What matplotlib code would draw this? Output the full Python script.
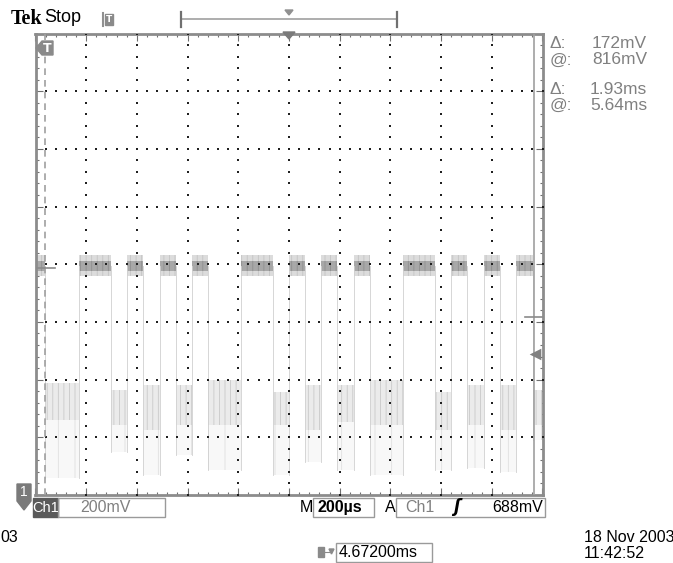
import numpy as np
import matplotlib.pyplot as plt
from matplotlib.patches import Polygon, Rectangle

W, H = 673, 563
UI = ['Liberation Sans Narrow', 'Liberation Sans', 'DejaVu Sans']
plt.rcParams['hatch.linewidth'] = 0.6

### scope settings
mv_per_div = 200
ms_per_div = 0.2
center_mv = 1000
delay_ms = 4.672
trig_level_mv = 688

### edge times of the serial signal (ms) and the level of each stretch
edges_ms = [3.709, 3.842, 3.970, 4.033, 4.096, 4.163, 4.226, 4.289, 4.352,
            4.481, 4.609, 4.672, 4.735, 4.798, 4.861, 4.928, 4.992, 5.122,
            5.248, 5.313, 5.376, 5.441, 5.504, 5.569, 5.635]
seg_levels = ['H', 'L', 'H', 'L', 'H', 'L', 'H', 'L', 'H', 'L', 'H', 'L', 'H',
              'L', 'H', 'L', 'H', 'L', 'H', 'L', 'H', 'L', 'H', 'L', 'H', 'L']

high_mid_mv = 995
high_core_mv = 17
high_outer_mv = 36
### noisy low bursts: dense band top / bottom and deepest spikes (mV)
low_top_mv = [589, 564, 582, 582, 599, 557, 582, 582, 599, 557, 582, 582, 564]
low_bot_mv = [460, 443, 426, 443, 443, 443, 426, 453, 443, 426, 443, 426, 443]
low_spike_mv = [259, 349, 270, 339, 287, 270, 315, 287, 270, 287, 294, 280, 391]

cursor_t_ms = [3.71, 5.64]
cursor_v_mv = [988, 816]

x0 = delay_ms - 5 * ms_per_div
x1 = delay_ms + 5 * ms_per_div
y0 = center_mv - 4 * mv_per_div
y1 = center_mv + 4 * mv_per_div

fig = plt.figure(figsize=(6.73, 5.63), dpi=100)
ax = fig.add_axes([35.5 / W, 1 - 495 / H, 507 / W, 461.5 / H])
ax.set_xlim(x0, x1)
ax.set_ylim(y0, y1)

### trace
bounds = [x0] + edges_ms + [x1]
for i, lev in enumerate(seg_levels):
    a, b = bounds[i], bounds[i + 1]
    if lev == 'H':
        ax.fill_between([a, b], high_mid_mv - high_outer_mv, high_mid_mv + high_outer_mv,
                        facecolor='#dcdcdc', edgecolor='#c4c4c4', hatch='|||', lw=0, zorder=2)
        ax.fill_between([a, b], high_mid_mv - high_core_mv, high_mid_mv + high_core_mv,
                        facecolor='#a8a8a8', edgecolor='#8e8e8e', hatch='|||', lw=0, zorder=2)
    else:
        k = (i - 1) // 2
        ax.fill_between([a, b], low_spike_mv[k], low_bot_mv[k],
                        facecolor='#f8f8f8', edgecolor='#e0e0e0', hatch='|', lw=0, zorder=2)
        ax.fill_between([a, b], low_bot_mv[k], low_top_mv[k],
                        facecolor='#ebebeb', edgecolor='#c9c9c9', hatch='|||', lw=0, zorder=2)
for j, e in enumerate(edges_ms):
    if seg_levels[j] == 'L':
        k = (j - 1) // 2
    else:
        k = j // 2
    ax.plot([e, e], [low_spike_mv[k], high_mid_mv], color='#d0d0d0', lw=0.6, zorder=2)

### graticule dots
gxs = [x0 + k * ms_per_div for k in range(1, 10)]
gys = [y0 + m * mv_per_div for m in range(1, 8)]
dot_y = np.arange(y0, y1 + 1, mv_per_div / 5)
dot_x = np.arange(x0, x1 + 1e-9, ms_per_div / 5)
for gx in gxs:
    ax.scatter(np.full(len(dot_y), gx), dot_y, s=1.0, marker='s', c='#202020', lw=0, zorder=3)
for gy in gys:
    ax.scatter(dot_x, np.full(len(dot_x), gy), s=1.0, marker='s', c='#202020', lw=0, zorder=3)

### cursors
ax.axvline(cursor_t_ms[0], color='#a0a0a0', lw=1.2, ls=(0, (4, 3)), zorder=4)
ax.axvline(cursor_t_ms[1], color='#a0a0a0', lw=1.2, zorder=4)
ax.plot([0, 0.038], [cursor_v_mv[0]] * 2, color='#8a8a8a', lw=1.2,
        transform=ax.get_yaxis_transform(), zorder=4)
ax.plot([0.965, 1.0], [cursor_v_mv[1]] * 2, color='#8a8a8a', lw=1.2,
        transform=ax.get_yaxis_transform(), zorder=4)
# trigger level arrow
ax.scatter([0.985], [trig_level_mv], marker='<', s=70, c='#808080', lw=0,
           transform=ax.get_yaxis_transform(), clip_on=False, zorder=5)

### frame and ticks
ax.set_xticks(gxs + [x0, x1])
ax.set_xticks(dot_x, minor=True)
ax.set_yticks(gys + [y0, y1])
ax.set_yticks(dot_y, minor=True)
ax.tick_params(which='both', direction='in', top=True, right=True,
               labelbottom=False, labelleft=False, color='#707070', width=0.8)
ax.tick_params(which='major', length=5)
ax.tick_params(which='minor', length=2.5)
for sp in ax.spines.values():
    sp.set_color('#8c8c8c')
    sp.set_linewidth(2)

### screen furniture in pixel coordinates
ov = fig.add_axes([0, 0, 1, 1])
ov.set_xlim(0, W)
ov.set_ylim(H, 0)
ov.axis('off')

ov.text(11, 19, 'Tek', family='Liberation Serif', weight='bold', fontsize=14.5, va='center')
ov.text(44, 17.5, 'Stop', family=UI, fontsize=13, va='center')
# small trigger icon
ov.plot([103, 103], [13, 26], color='#909090', lw=1.5)
ov.add_patch(Rectangle((105, 14), 8, 11, color='#8a8a8a'))
ov.text(109, 19.5, 'T', color='white', fontsize=6.5, ha='center', va='center', weight='bold')
# record bar
ov.plot([182, 397], [19, 19], color='#a0a0a0', lw=1.2)
ov.plot([181, 181], [12, 27], color='#707070', lw=1.6)
ov.plot([397, 397], [12, 27], color='#707070', lw=1.6)
ov.add_patch(Polygon([(285, 10), (293, 10), (289, 15)], color='#909090'))
# trigger position marker
ov.add_patch(Polygon([(283, 32), (295, 32), (289, 39)], color='#7a7a7a'))
# T marker inside screen
ov.add_patch(Polygon([(36, 48), (42, 41), (53, 41), (53, 55), (42, 55)], color='#8a8a8a'))
ov.text(47.5, 48, 'T', color='white', fontsize=9, ha='center', va='center', weight='bold')
# channel 1 ground marker
ov.add_patch(Polygon([(17, 484), (31, 484), (31, 501), (24, 510), (17, 501)], color='#7a7a7a'))
ov.text(24, 492, '1', color='white', fontsize=10, ha='center', va='center', family=UI)

# cursor readouts
grey = '#808080'
dv = cursor_v_mv[0] - cursor_v_mv[1]
dt = cursor_t_ms[1] - cursor_t_ms[0]
ov.text(550, 43, '\u0394:', color=grey, fontsize=12.5, va='center', family=UI)
ov.text(550, 60, '@:', color=grey, fontsize=12.5, va='center', family=UI)
ov.text(647, 43, f'{dv}mV', color=grey, fontsize=12.5, va='center', ha='right', family=UI)
ov.text(647, 60, f'{cursor_v_mv[1]}mV', color=grey, fontsize=12.5, va='center', ha='right', family=UI)
ov.text(550, 89, '\u0394:', color=grey, fontsize=12.5, va='center', family=UI)
ov.text(550, 105, '@:', color=grey, fontsize=12.5, va='center', family=UI)
ov.text(647, 89, f'{dt:.2f}ms', color=grey, fontsize=12.5, va='center', ha='right', family=UI)
ov.text(647, 105, f'{cursor_t_ms[1]:.2f}ms', color=grey, fontsize=12.5, va='center', ha='right', family=UI)

# bottom status line
ov.add_patch(Rectangle((33, 498), 25, 19, color='#5a5a5a'))
ov.text(45.5, 507.5, 'Ch1', color='white', fontsize=10.5, ha='center', va='center', family=UI)
ov.add_patch(Rectangle((58, 498), 107, 19, fill=False, ec='#9a9a9a', lw=1))
ov.text(80, 507.5, f'{mv_per_div}mV', color='#808080', fontsize=11.5, va='center', family=UI)
ov.text(300, 507.5, 'M', fontsize=11.5, va='center', family=UI)
ov.add_patch(Rectangle((313, 498), 61, 19, fill=False, ec='#9a9a9a', lw=1))
ov.text(318, 507.5, f'{int(ms_per_div * 1000)}\u00b5s', fontsize=11.5, va='center',
        weight='bold', family=UI)
ov.text(385, 507.5, 'A', fontsize=11.5, va='center', family=UI)
ov.add_patch(Rectangle((396, 498), 149, 19, fill=False, ec='#9a9a9a', lw=1))
ov.text(405, 507.5, 'Ch1', color='#808080', fontsize=11.5, va='center', family=UI)
ov.text(457, 507.5, '\u0283', fontsize=12, va='center', ha='center', weight='bold', style='italic')
ov.text(543, 507.5, f'{trig_level_mv}mV', fontsize=11.5, va='center', ha='right', family=UI)

ov.text(0, 537, '03', fontsize=11.5, va='center', family=UI)
ov.text(584, 537, '18 Nov 2003', fontsize=11.5, va='center', family=UI)
ov.text(584, 553, '11:42:52', fontsize=11.5, va='center', family=UI)
ov.add_patch(Rectangle((318, 547), 6, 10, color='#8a8a8a'))
ov.plot([325, 329], [552, 552], color='#8a8a8a', lw=0.8)
ov.add_patch(Polygon([(329, 549), (334, 549), (331.5, 554)], color='#8a8a8a'))
ov.add_patch(Rectangle((336, 543), 96, 19, fill=False, ec='#9a9a9a', lw=1))
ov.text(339, 552.5, f'{delay_ms:.5f}ms', fontsize=11.5, va='center', family=UI)

fig.savefig('out.png', dpi=100)
